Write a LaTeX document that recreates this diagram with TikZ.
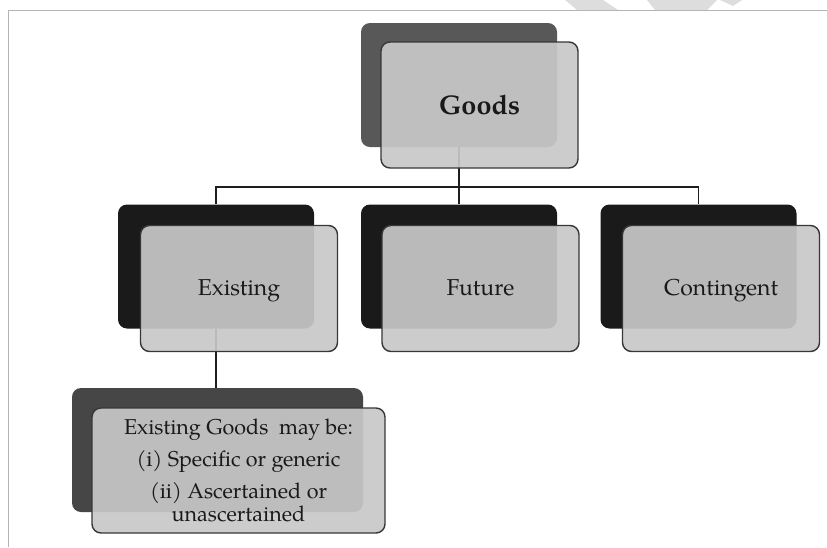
\documentclass[tikz,border=0pt]{standalone}
\usepackage{fontspec}
\setmainfont{TeX Gyre Pagella}
\definecolor{gBack}{RGB}{88,88,88}
\definecolor{lBack}{RGB}{26,26,26}
\definecolor{eBack}{RGB}{70,70,70}
\definecolor{fFill}{RGB}{200,200,200}
\definecolor{fLine}{RGB}{55,55,55}
\definecolor{connCol}{RGB}{30,30,30}
\definecolor{txtCol}{RGB}{25,25,25}
\definecolor{frameCol}{RGB}{180,180,180}
\definecolor{wmCol}{RGB}{221,221,221}
\begin{document}
\begin{tikzpicture}[x=1pt,y=-1pt,
  backbox/.style={rounded corners=9pt, minimum width=196pt, minimum height=124pt, inner sep=0pt, draw=none},
  frontbox/.style={rounded corners=9pt, minimum width=197pt, minimum height=126pt, inner sep=0pt,
    draw=fLine, line width=1.4pt, fill=fFill, fill opacity=0.92, text opacity=1, text=txtCol},
  conn/.style={draw=connCol, line width=1.8pt},
  lvltext/.style={font=\fontsize{23}{27}\selectfont, text height=17pt, text depth=4pt},
]
\useasboundingbox (0,0) rectangle (827,547);
\fill[white] (0,0) rectangle (827,547);
% watermark
\fill[wmCol] (565,0) -- (603,0) -- (618,10) -- (577,10) -- cycle;
\fill[wmCol] (647,0) -- (717,0) -- (707,10) -- (655,10) -- cycle;
\fill[wmCol] (720,0) -- (742,0) -- (733,6) -- cycle;
% frame
\draw[frameCol, line width=1pt] (8,547) -- (8,10.5) -- (827,10.5);
% back boxes
\node[backbox, fill=gBack] (goodsB) at (459,85) {};
\node[backbox, fill=lBack] (exB) at (216,266.5) {};
\node[backbox, fill=lBack] (fuB) at (459,266.5) {};
\node[backbox, fill=lBack] (coB) at (698.5,266.5) {};
\node[backbox, fill=eBack, minimum width=291pt] (egB) at (217.5,450) {};
% connectors
\coordinate (bus) at (459,187);
\draw[conn] (goodsB.south) -- (bus);
\draw[conn] (exB.north) |- (bus) -| (coB.north);
\draw[conn] (fuB.north) -- (bus);
\draw[conn] (exB.south) -- (exB.south |- egB.north);
% front boxes
\node[frontbox, font=\fontsize{27}{32}\selectfont\bfseries, text height=19pt, text depth=1pt] (goods) at (479.5,105) {Goods};
\node[frontbox, lvltext] (ex) at (239,288.5) {Existing};
\node[frontbox, lvltext] (fu) at (480.5,288.5) {Future};
\node[frontbox, lvltext] (co) at (721,288.5) {Contingent};
\node[frontbox, minimum width=293pt, minimum height=125pt, align=center,
  font=\fontsize{21.5}{22.5}\selectfont] (eg) at (238.5,470.5)
  {Existing Goods\ \ may be:\\[9pt] (i) Specific or generic\\[10pt] (ii) Ascertained or\\ unascertained};
\end{tikzpicture}
\end{document}
